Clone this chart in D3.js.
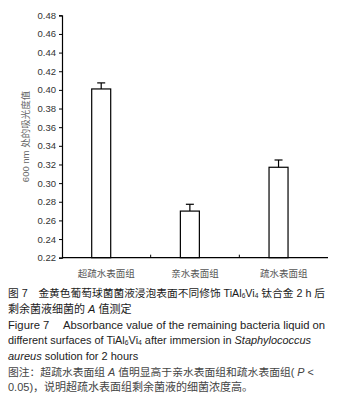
<!DOCTYPE html>
<html>
<head>
<meta charset="utf-8">
<script src="https://cdn.jsdelivr.net/npm/d3@7"></script>
<style>
  body { margin: 0; background: #fff; }
  svg { display: block; font-family: Arial, "Liberation Sans", "Noto Sans CJK SC", sans-serif; }
</style>
</head>
<body>
<div id="chart"></div>
<script>
var categories = ["超疏水表面组", "亲水表面组", "疏水表面组"]
var values = [0.401, 0.270, 0.317]
var errors = [0.0065, 0.0073, 0.0078]
var yTicks = [0.22, 0.24, 0.26, 0.28, 0.30, 0.32, 0.34, 0.36, 0.38, 0.40, 0.42, 0.44, 0.46, 0.48]
var yTitle = "600 nm 处的吸光度值"

var width = 341, height = 403
var margin = { top: 15.3, left: 62, right: 13, bottom: 145.3 }

var svg = d3.select("#chart").append("svg")
  .attr("width", width)
  .attr("height", height)

svg.append("rect").attr("width", width).attr("height", height).attr("fill", "#fff")

var x = d3.scaleBand()
  .domain(categories)
  .range([margin.left, width - margin.right])

var y = d3.scaleLinear()
  .domain([0.22, 0.48])
  .range([height - margin.bottom, margin.top])

var barW = 19
var barX = function(i) { return x(categories[i]) + x.bandwidth() * 0.335 }

// bars
svg.selectAll(".bar")
  .data(values)
  .enter().append("rect")
  .attr("class", "bar")
  .attr("x", function(d, i) { return barX(i) })
  .attr("y", function(d) { return y(d) })
  .attr("width", barW)
  .attr("height", function(d) { return y(0.22) - y(d) })
  .attr("fill", "#fff")
  .attr("stroke", "#000")
  .attr("stroke-width", 1.2)

// error bars (upper only)
var eb = svg.selectAll(".err")
  .data(values)
  .enter().append("g")
  .attr("class", "err")
eb.append("line")
  .attr("x1", function(d, i) { return barX(i) + barW / 2 })
  .attr("x2", function(d, i) { return barX(i) + barW / 2 })
  .attr("y1", function(d) { return y(d) })
  .attr("y2", function(d, i) { return y(d + errors[i]) })
  .attr("stroke", "#000").attr("stroke-width", 1.2)
eb.append("line")
  .attr("x1", function(d, i) { return barX(i) + barW / 2 - 4 })
  .attr("x2", function(d, i) { return barX(i) + barW / 2 + 4 })
  .attr("y1", function(d, i) { return y(d + errors[i]) })
  .attr("y2", function(d, i) { return y(d + errors[i]) })
  .attr("stroke", "#000").attr("stroke-width", 1.2)

// y axis
var yAxis = svg.append("g")
  .attr("transform", "translate(" + margin.left + ",0)")
  .call(d3.axisLeft(y).tickValues(yTicks).tickFormat(d3.format(".2f")).tickSize(3).tickPadding(3))
yAxis.select(".domain").attr("stroke", "#000").attr("stroke-width", 1.2)
yAxis.selectAll(".tick line").attr("stroke", "#000")
yAxis.selectAll("text").attr("font-size", "9.5px").attr("fill", "#333")
  .attr("font-family", "Arial, 'Liberation Sans', sans-serif")

// x axis: ticks between categories, pointing up
var xAxis = svg.append("g")
  .attr("transform", "translate(0," + y(0.22) + ")")
xAxis.append("line")
  .attr("x1", margin.left).attr("x2", width - margin.right)
  .attr("stroke", "#000").attr("stroke-width", 1.2)
xAxis.selectAll(".xt")
  .data(categories.slice(1))
  .enter().append("line")
  .attr("x1", function(d) { return x(d) }).attr("x2", function(d) { return x(d) })
  .attr("y1", 0).attr("y2", -3)
  .attr("stroke", "#000")
xAxis.selectAll(".xl")
  .data(categories)
  .enter().append("text")
  .attr("x", function(d) { return x(d) + x.bandwidth() / 2 })
  .attr("y", 19)
  .attr("text-anchor", "middle")
  .attr("font-size", "9.5px")
  .attr("fill", "#555")
  .attr("font-family", "'Noto Sans CJK SC', sans-serif")
  .text(function(d) { return d })

// y title
svg.append("text")
  .attr("transform", "translate(29," + (y(0.35)) + ") rotate(-90)")
  .attr("text-anchor", "middle")
  .attr("font-size", "9.5px")
  .attr("fill", "#666")
  .attr("font-family", "Arial, 'Noto Sans CJK SC', sans-serif")
  .text(yTitle)

// caption; font size is fitted so each line spans the width seen in the figure
var cap = svg.append("g")
function capLine(yy, parts, color, len) {
  var t = cap.append("text").attr("x", 8).attr("y", yy).attr("fill", color).attr("font-size", "11px")
  parts.forEach(function(p) {
    var s = t.append("tspan").text(p.t)
    if (p.sub) { s.attr("font-size", "0.62em").attr("baseline-shift", "-20%") }
    if (p.it) { s.attr("font-style", "italic") }
  })
  if (len) {
    var w = t.node().getComputedTextLength()
    t.attr("font-size", (11 * len / w).toFixed(2) + "px")
  }
}
capLine(297, [{t: "图 7　金黄色葡萄球菌菌液浸泡表面不同修饰 TiAl"}, {t: "6", sub: true}, {t: "Vi"}, {t: "4", sub: true}, {t: " 钛合金 2 h 后"}], "#1a1a1a", 317)
capLine(313, [{t: "剩余菌液细菌的 "}, {t: "A", it: true}, {t: " 值测定"}], "#1a1a1a")
capLine(329, [{t: "Figure 7　 Absorbance value of the remaining bacteria liquid on"}], "#222", 317)
capLine(344, [{t: "different surfaces of TiAl"}, {t: "6", sub: true}, {t: "Vi"}, {t: "4", sub: true}, {t: " after immersion in "}, {t: "Staphylococcus", it: true}], "#222", 303)
capLine(360, [{t: "aureus", it: true}, {t: " solution for 2 hours"}], "#222")
capLine(376, [{t: "图注：超疏水表面组 "}, {t: "A", it: true}, {t: " 值明显高于亲水表面组和疏水表面组( "}, {t: "P", it: true}, {t: " <"}], "#444", 306)
capLine(391, [{t: "0.05)，说明超疏水表面组剩余菌液的细菌浓度高。"}], "#444")
</script>
</body>
</html>
